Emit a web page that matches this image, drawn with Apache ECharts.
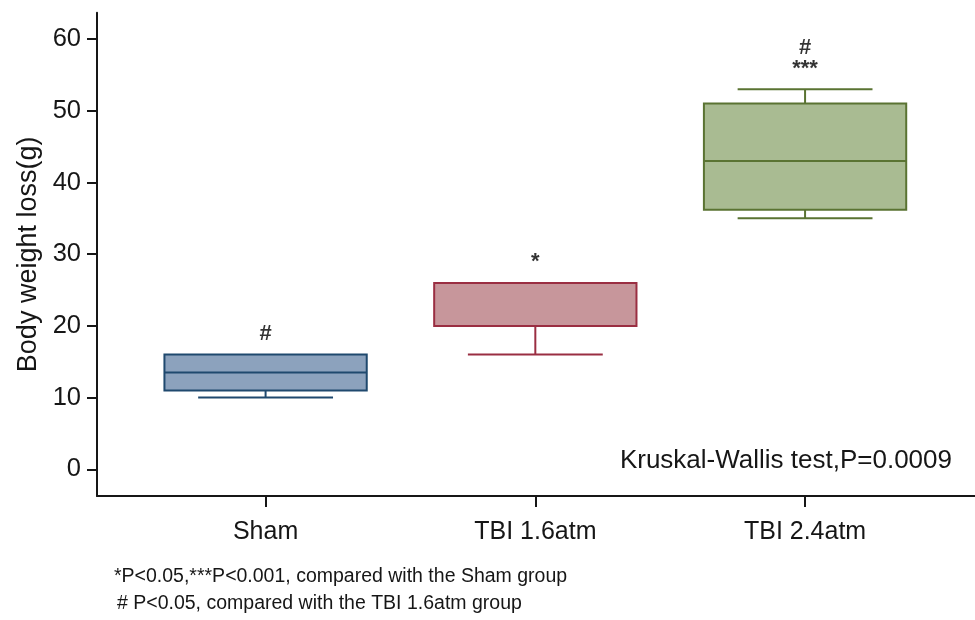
<!DOCTYPE html>
<html>
<head>
<meta charset="utf-8">
<script src="https://cdn.jsdelivr.net/npm/echarts@6/dist/echarts.min.js"></script>
<style>
  html, body { margin: 0; padding: 0; background: #ffffff; }
  #chart { width: 975px; height: 620px; }
</style>
</head>
<body>
<div id="chart"></div>
<script>
// Body weight loss (g) per group: box-and-whisker summary
const categories = ['Sham', 'TBI 1.6atm', 'TBI 2.4atm'];
const whiskerLow = [10, 16, 35];
const quartile1 = [11, 20, 36.2];
const medians = [13.5, 20, 43];
const quartile3 = [16, 26, 51];
const whiskerHigh = [16, 26, 53];
// Significance marks printed above each group, top line first
const significance = [['#'], ['*'], ['#', '***']];
const yTicks = [0, 10, 20, 30, 40, 50, 60];

const fills = ['#8CA2BD', '#C7969B', '#A9BB92'];
const strokes = ['#1F496E', '#9A2E42', '#5A7332'];
const FONT = '"Liberation Sans", Arial, sans-serif';
const INK = '#161616';
const BOX_WIDTH = 0.75;   // in x-axis units
const CAP_WIDTH = 0.5;

const boxData = categories.map((c, i) => [i + 1, whiskerLow[i], quartile1[i], medians[i], quartile3[i], whiskerHigh[i]]);
const markData = categories.map((c, i) => [i + 1, whiskerHigh[i]]);

function renderBox(params, api) {
  const i = params.dataIndex;
  const x = api.value(0);
  const lo = api.coord([x, api.value(1)]);
  const q1 = api.coord([x, api.value(2)]);
  const md = api.coord([x, api.value(3)]);
  const q3 = api.coord([x, api.value(4)]);
  const hi = api.coord([x, api.value(5)]);
  const half = api.size([BOX_WIDTH, 0])[0] / 2;
  const cap = api.size([CAP_WIDTH, 0])[0] / 2;
  const lineStyle = { stroke: strokes[i], lineWidth: 2, fill: null };
  const cx = md[0];
  const children = [];
  if (hi[1] < q3[1] - 0.5) {
    children.push({ type: 'line', shape: { x1: cx, y1: q3[1], x2: cx, y2: hi[1] }, style: lineStyle });
    children.push({ type: 'line', shape: { x1: cx - cap, y1: hi[1], x2: cx + cap, y2: hi[1] }, style: lineStyle });
  }
  if (lo[1] > q1[1] + 0.5) {
    children.push({ type: 'line', shape: { x1: cx, y1: q1[1], x2: cx, y2: lo[1] }, style: lineStyle });
    children.push({ type: 'line', shape: { x1: cx - cap, y1: lo[1], x2: cx + cap, y2: lo[1] }, style: lineStyle });
  }
  children.push({
    type: 'rect',
    shape: { x: cx - half, y: q3[1], width: half * 2, height: q1[1] - q3[1] },
    style: { fill: fills[i], stroke: strokes[i], lineWidth: 2 }
  });
  children.push({ type: 'line', shape: { x1: cx - half, y1: md[1], x2: cx + half, y2: md[1] }, style: lineStyle });
  return { type: 'group', children };
}

const chart = echarts.init(document.getElementById('chart'), null, { renderer: 'canvas' });
chart.setOption({
  backgroundColor: '#ffffff',
  animation: false,
  textStyle: { fontFamily: FONT, color: INK },
  grid: { left: 97, right: 0, top: 12.7, bottom: 124, outerBoundsMode: 'none' },
  xAxis: {
    type: 'value',
    min: 0.375,
    max: 3.63,
    splitLine: { show: false },
    axisLine: { onZero: false, lineStyle: { color: INK, width: 2 } },
    axisTick: { customValues: [1, 2, 3], length: 11, lineStyle: { color: INK, width: 2 } },
    axisLabel: {
      customValues: [1, 2, 3],
      formatter: v => categories[Math.round(v) - 1],
      margin: 24,
      color: INK,
      fontFamily: FONT,
      fontSize: 25
    }
  },
  yAxis: {
    type: 'value',
    min: -3.72,
    max: 63.68,
    name: 'Body weight loss(g)',
    nameLocation: 'middle',
    nameGap: 55,
    nameTextStyle: { color: INK, fontFamily: FONT, fontSize: 27 },
    splitLine: { show: false },
    axisLine: { onZero: false, lineStyle: { color: INK, width: 2 } },
    axisTick: { customValues: yTicks, length: 10, lineStyle: { color: INK, width: 2 } },
    axisLabel: {
      customValues: yTicks,
      margin: 16,
      color: INK,
      fontFamily: FONT,
      fontSize: 25.5
    }
  },
  graphic: [
    {
      type: 'text', right: 23, top: 448,
      style: { text: 'Kruskal-Wallis test,P=0.0009', fill: INK, font: '26px ' + FONT }
    },
    {
      type: 'text', left: 114, top: 567,
      style: { text: '*P<0.05,***P<0.001, compared with the Sham group', fill: INK, font: '19.5px ' + FONT }
    },
    {
      type: 'text', left: 117, top: 594,
      style: { text: '# P<0.05, compared with the TBI 1.6atm group', fill: INK, font: '19.5px ' + FONT }
    }
  ],
  series: [
    {
      type: 'custom',
      name: 'Body weight loss',
      data: boxData,
      encode: { x: 0, y: [1, 2, 3, 4, 5] },
      renderItem: renderBox,
      clip: false,
      silent: true
    },
    {
      // significance marks sitting above each group's top whisker
      type: 'scatter',
      name: 'Significance',
      data: markData,
      symbolSize: 0,
      silent: true,
      label: {
        show: true,
        position: 'top',
        distance: 10,
        align: 'center',
        color: '#000',
        fontFamily: 'Arial, "Liberation Sans", sans-serif',
        fontWeight: 'bold',
        fontSize: 22,
        lineHeight: 21,
        formatter: p => significance[p.dataIndex].join('\n')
      }
    }
  ]
});
</script>
</body>
</html>
